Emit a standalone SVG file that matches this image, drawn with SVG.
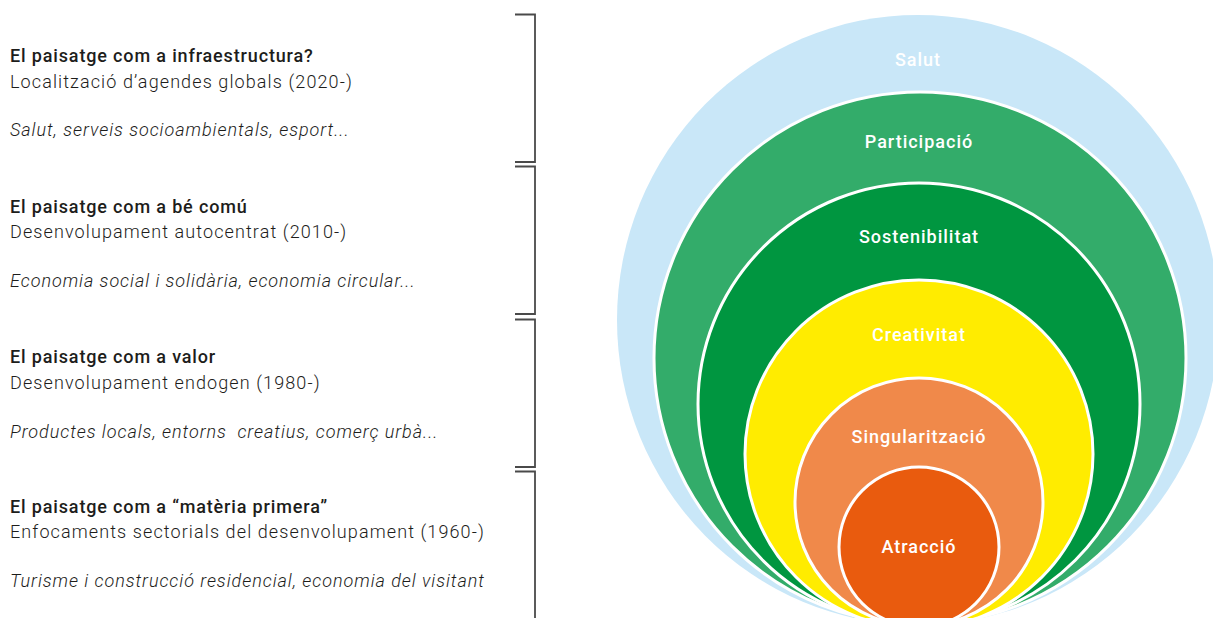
<svg xmlns="http://www.w3.org/2000/svg" width="1213" height="618" viewBox="0 0 1213 618">
<style>
.ring{stroke:#fff;stroke-width:3}
.lbl{font-family:Roboto,"Liberation Sans",sans-serif;font-size:18px;font-weight:500;fill:#fff;text-anchor:middle;letter-spacing:1px}
.h{font-family:Roboto,"Liberation Sans",sans-serif;font-size:18px;font-weight:500;fill:#1d1d1b;letter-spacing:0.85px}
.s{font-family:Roboto,"Liberation Sans",sans-serif;font-size:18px;font-weight:300;fill:#1d1d1b;letter-spacing:1.1px}
.i{font-family:Roboto,"Liberation Sans",sans-serif;font-size:18px;font-weight:300;font-style:italic;fill:#1d1d1b;letter-spacing:0.95px}
.br{fill:none;stroke:#4a4a4a;stroke-width:1.8}
</style>
<rect width="1213" height="618" fill="#fff"/>
<g id="salut"><ellipse cx="918" cy="320" rx="301" ry="305" fill="#c9e7f8"/><text class="lbl" x="918" y="66">Salut</text></g>
<g id="participacio"><circle class="ring" cx="920" cy="358" r="266" fill="#33ac6a"/><text class="lbl" x="919" y="148">Participació</text></g>
<g id="sostenibilitat"><circle class="ring" cx="919" cy="404" r="221" fill="#009640"/><text class="lbl" x="919" y="243">Sostenibilitat</text></g>
<g id="creativitat"><circle class="ring" cx="919" cy="454" r="174" fill="#ffec00"/><text class="lbl" x="919" y="341">Creativitat</text></g>
<g id="singularitzacio"><circle class="ring" cx="919" cy="502" r="124" fill="#f0894a"/><text class="lbl" x="919" y="443">Singularització</text></g>
<g id="atraccio"><circle class="ring" cx="919" cy="547" r="80" fill="#e95b0e"/><text class="lbl" x="919" y="553">Atracció</text></g>
<g id="block1">
<text class="h" x="10" y="62">El paisatge com a infraestructura?</text>
<text class="s" x="10" y="88">Localització d’agendes globals (2020-)</text>
<text class="i" x="10" y="136">Salut, serveis socioambientals, esport...</text>
</g>
<g id="block2">
<text class="h" x="10" y="213">El paisatge com a bé comú</text>
<text class="s" x="10" y="238">Desenvolupament autocentrat (2010-)</text>
<text class="i" x="10" y="287">Economia social i solidària, economia circular...</text>
</g>
<g id="block3">
<text class="h" x="10" y="363">El paisatge com a valor</text>
<text class="s" x="10" y="389">Desenvolupament endogen (1980-)</text>
<text class="i" x="10" y="438" xml:space="preserve">Productes locals, entorns  creatius, comerç urbà...</text>
</g>
<g id="block4">
<text class="h" x="10" y="513">El paisatge com a “matèria primera”</text>
<text class="s" x="10" y="538">Enfocaments sectorials del desenvolupament (1960-)</text>
<text class="i" x="10" y="587">Turisme i construcció residencial, economia del visitant</text>
</g>
<g id="connectors">
<path class="br" d="M515,14.5H535V162H515"/>
<path class="br" d="M515,166.5H535V314H515"/>
<path class="br" d="M515,319.5H535V467H515"/>
<path class="br" d="M515,471.5H535V618"/>
</g>
</svg>
